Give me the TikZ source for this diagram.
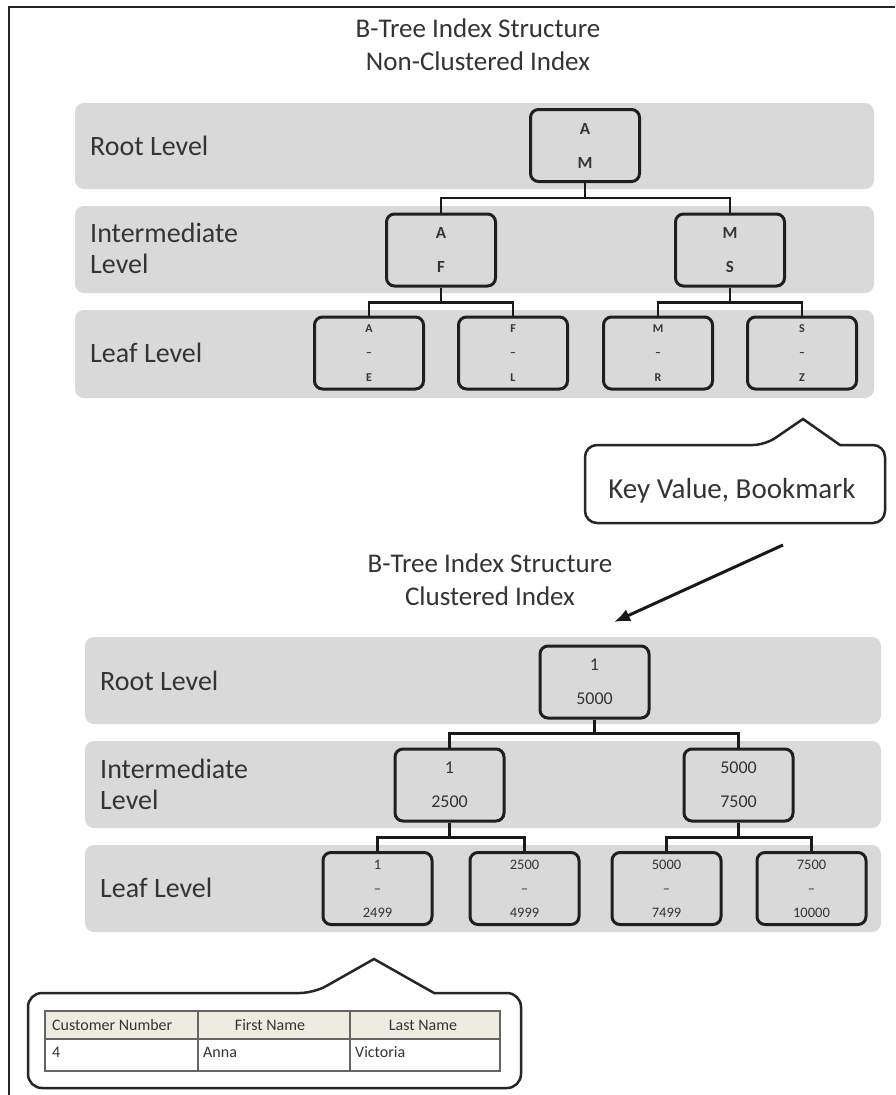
\documentclass[tikz,border=0pt]{standalone}
\usepackage{fontspec}
\setmainfont{Carlito}
\usetikzlibrary{arrows.meta}

\definecolor{bandgrey}{RGB}{217,217,217}
\definecolor{inkgrey}{RGB}{52,52,52}
\definecolor{headfill}{RGB}{238,236,225}
\definecolor{gridgrey}{RGB}{100,100,100}

\tikzset{
  band/.style={fill=bandgrey, draw=none, rounded corners=9pt},
  keybox/.style={draw=black!88, line width=3pt, fill=bandgrey, rounded corners=8pt,
    minimum width=109pt, minimum height=72pt, inner sep=0pt, align=center, text=inkgrey},
  upperkey/.style={keybox, font=\fontsize{18}{34}\selectfont},
  letterkey/.style={keybox, font=\fontsize{17}{34}\selectfont\bfseries},
  leafkeyA/.style={keybox, font=\fontsize{12}{24.5}\selectfont\bfseries},
  leafkeyB/.style={keybox, font=\fontsize{14.5}{24}\selectfont},
  levellabel/.style={anchor=west, align=left, text=inkgrey, inner sep=0pt,
    font=\fontsize{28}{31}\selectfont},
  titletext/.style={align=center, text=inkgrey, inner sep=0pt,
    font=\fontsize{27}{33}\selectfont},
  link/.style={draw=black!90, line width=2.5pt},
  callout/.style={draw=black!85, line width=2.5pt},
  cell/.style={inner sep=0pt, text=black!80, font=\fontsize{16}{18}\selectfont},
}

\begin{document}
\begin{tikzpicture}[x=1pt,y=-1pt]
\useasboundingbox (0,0) rectangle (895,1095);
\fill[white] (0,0) rectangle (895,1095);

% page frame (top and left edges)
\draw[line width=2.2pt, black!85] (895,7) -- (9,7) -- (9,1095);

% ---------- non-clustered index ----------
\node[titletext] (title1) at (478,45) {B-Tree Index Structure\\Non-Clustered Index};

\fill[band] (75,103) rectangle (874,189);
\fill[band] (75,206) rectangle (874,293);
\fill[band] (75,310) rectangle (874,398);

\node[levellabel] (rootA) at (90,146) {Root Level};
\node[levellabel] (interA) at (90,248) {Intermediate\\Level};
\node[levellabel] (leafA) at (90,353) {Leaf Level};

\node[letterkey] (r1) at (585,145.5) {A\\M};
\node[letterkey] (i1) at (441,250) {A\\F};
\node[letterkey] (i2) at (730,250) {M\\S};
\node[leafkeyA] (l1) at (369,353) {A\\--\\E};
\node[leafkeyA] (l2) at (513,353) {F\\--\\L};
\node[leafkeyA] (l3) at (658,353) {M\\--\\R};
\node[leafkeyA] (l4) at (802,353) {S\\--\\Z};

\draw[link] (r1.south) -- ++(0,15) -| (i1.north);
\draw[link] (r1.south) -- ++(0,15) -| (i2.north);
\draw[link] (i1.south) -- ++(0,15) -| (l1.north);
\draw[link] (i1.south) -- ++(0,15) -| (l2.north);
\draw[link] (i2.south) -- ++(0,15) -| (l3.north);
\draw[link] (i2.south) -- ++(0,15) -| (l4.north);

% callout naming the leaf contents
\draw[callout] [rounded corners=12pt] (585,484) -- (585,445) -- (765,445)
  [sharp corners] -- (803,419) -- (840,445)
  [rounded corners=12pt] -- (885,445) -- (885,523) -- (585,523) -- cycle;
\node[text=inkgrey, font=\fontsize{29}{32}\selectfont] (kv) at (732,491) {Key Value, Bookmark};

\coordinate (arrowtail) at (783,545);
\coordinate (arrowtip) at (614,622);
\draw[line width=3pt, black!90, -{Latex[length=16pt,width=13pt]}] (arrowtail) -- (arrowtip);

% ---------- clustered index ----------
\node[titletext] (title2) at (490,580) {B-Tree Index Structure\\Clustered Index};

\fill[band] (85,637) rectangle (881,724);
\fill[band] (85,741) rectangle (881,828);
\fill[band] (85,845) rectangle (881,932);

\node[levellabel] (rootB) at (100,681) {Root Level};
\node[levellabel] (interB) at (100,784) {Intermediate\\Level};
\node[levellabel] (leafB) at (100,888) {Leaf Level};

\node[upperkey] (r2) at (594.5,682) {1\\5000};
\node[upperkey] (j1) at (449.5,785) {1\\2500};
\node[upperkey] (j2) at (738.5,785) {5000\\7500};
\node[leafkeyB] (m1) at (377.5,888.5) {1\\--\\2499};
\node[leafkeyB] (m2) at (524.5,888.5) {2500\\--\\4999};
\node[leafkeyB] (m3) at (666.5,888.5) {5000\\--\\7499};
\node[leafkeyB] (m4) at (811.5,888.5) {7500\\--\\10000};

\draw[link] (r2.south) -- ++(0,14) -| (j1.north);
\draw[link] (r2.south) -- ++(0,14) -| (j2.north);
\draw[link] (j1.south) -- ++(0,15) -| (m1.north);
\draw[link] (j1.south) -- ++(0,15) -| (m2.north);
\draw[link] (j2.south) -- ++(0,15) -| (m3.north);
\draw[link] (j2.south) -- ++(0,15) -| (m4.north);

% callout holding a data row
\draw[callout] [rounded corners=14pt] (28,1040) -- (28,993) -- (314,993)
  [sharp corners] -- (374,959) -- (434,993)
  [rounded corners=14pt] -- (521,993) -- (521,1088) -- (28,1088) -- cycle;

\fill[headfill] (45,1011) rectangle (500,1039);
\draw[gridgrey, line width=1.5pt] (45,1011) rectangle (500,1071);
\draw[gridgrey, line width=1.5pt] (45,1039) -- (500,1039);
\draw[gridgrey, line width=1.5pt] (198,1011) -- (198,1071);
\draw[gridgrey, line width=1.5pt] (350,1011) -- (350,1071);

\node[cell, anchor=west] (h1) at (52,1025) {Customer Number};
\node[cell] (h2) at (270,1025) {First Name};
\node[cell] (h3) at (423,1025) {Last Name};
\node[cell, anchor=west] (d1) at (52,1052) {4};
\node[cell, anchor=west] (d2) at (203,1052) {Anna};
\node[cell, anchor=west] (d3) at (355,1052) {Victoria};
\end{tikzpicture}
\end{document}
